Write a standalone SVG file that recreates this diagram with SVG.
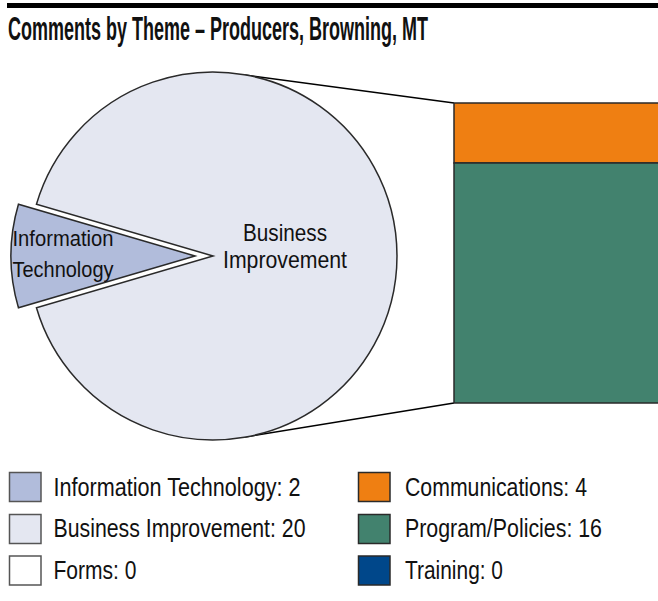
<svg xmlns="http://www.w3.org/2000/svg" width="658" height="601" viewBox="0 0 658 601">
<style>
text{font-family:"Liberation Sans Narrow","Liberation Sans",Arial,sans-serif;fill:#111}
.title{font-size:33px;font-weight:bold}
.lbl{font-size:24px}
.it{font-size:22.5px}
.leg{font-size:25px}
.sl{stroke:#2a2a2a;stroke-width:1.5}
.sw{stroke:#555;stroke-width:1.5}
</style>
<rect x="7" y="3" width="651" height="5" fill="#000"/>
<text class="title" transform="scale(0.6,1)" x="13.33" y="40.5" textLength="700" lengthAdjust="spacingAndGlyphs">Comments by Theme – Producers, Browning, MT</text>
<g id="connectors" fill="none" stroke="#000" stroke-width="1.5">
<line x1="245" y1="75" x2="454" y2="103"/>
<line x1="245" y1="437" x2="454" y2="403"/>
</g>
<g id="business-improvement">
<path class="sl" d="M213,256 L36.45,204.17 A184,184 0 1 1 36.45,307.83 Z" fill="#E4E7F1"/>
<text class="lbl" x="285" y="241" text-anchor="middle" textLength="84" lengthAdjust="spacingAndGlyphs">Business</text>
<text class="lbl" x="285" y="268" text-anchor="middle" textLength="124" lengthAdjust="spacingAndGlyphs">Improvement</text>
</g>
<g id="information-technology">
<path class="sl" d="M195,256 L18.45,204.17 A184,184 0 0 0 18.45,307.83 Z" fill="#B1BCDB"/>
<text class="it" x="12.5" y="245.5" textLength="101" lengthAdjust="spacingAndGlyphs">Information</text>
<text class="it" x="12.5" y="276.5" textLength="101" lengthAdjust="spacingAndGlyphs">Technology</text>
</g>
<g id="communications">
<rect class="sl" x="454" y="103" width="220" height="60" fill="#EF7F12"/>
</g>
<g id="program-policies">
<rect class="sl" x="454" y="163" width="220" height="240" fill="#42826E"/>
</g>
<g id="legend">
<rect class="sw" x="9.5" y="472.5" width="31.5" height="29" fill="#B1BCDB"/>
<text class="leg" x="53.5" y="495.5" textLength="247" lengthAdjust="spacingAndGlyphs">Information Technology: 2</text>
<rect class="sw" x="9.5" y="514.5" width="31.5" height="29" fill="#E4E7F1"/>
<text class="leg" x="53.5" y="537" textLength="252" lengthAdjust="spacingAndGlyphs">Business Improvement: 20</text>
<rect class="sw" x="9.5" y="556" width="31.5" height="29" fill="#fff"/>
<text class="leg" x="53.5" y="578.5" textLength="83" lengthAdjust="spacingAndGlyphs">Forms: 0</text>
<rect class="sl" x="358.5" y="472.5" width="31.5" height="29" fill="#EF7F12"/>
<text class="leg" x="405" y="495.5" textLength="182" lengthAdjust="spacingAndGlyphs">Communications: 4</text>
<rect class="sl" x="358.5" y="514.5" width="31.5" height="29" fill="#42826E"/>
<text class="leg" x="405" y="537" textLength="197" lengthAdjust="spacingAndGlyphs">Program/Policies: 16</text>
<rect class="sl" x="358.5" y="556" width="31.5" height="29" fill="#00478A"/>
<text class="leg" x="405" y="578.5" textLength="98" lengthAdjust="spacingAndGlyphs">Training: 0</text>
</g>
</svg>
